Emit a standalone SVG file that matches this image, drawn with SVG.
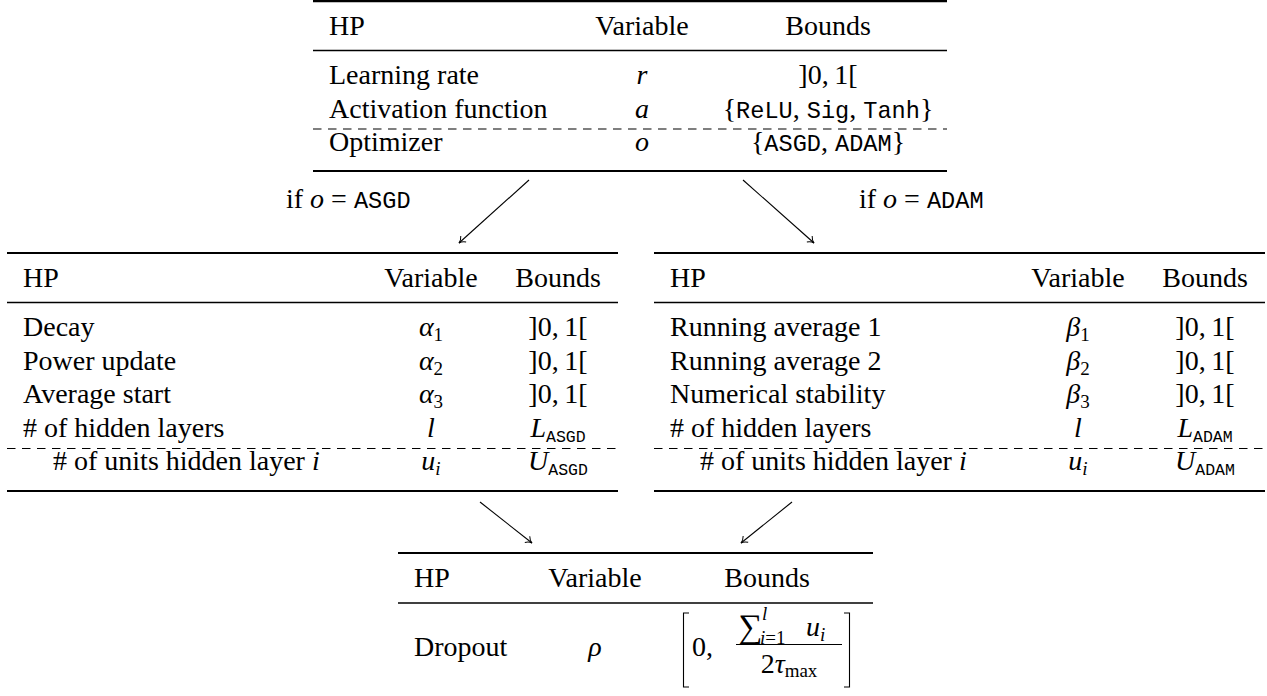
<svg xmlns="http://www.w3.org/2000/svg" width="1267" height="696" viewBox="0 0 1267 696">
<defs>
<marker id="arr" viewBox="-8 -5 10 10" refX="0" refY="0" markerWidth="10" markerHeight="10" markerUnits="userSpaceOnUse" orient="auto">
<path d="M-6,-4 C-4,-1.5 -1.5,-0.3 0,0 C-1.5,0.3 -4,1.5 -6,4" fill="none" stroke="#000" stroke-width="1"/>
</marker>
</defs>
<style>
text{font-family:"Liberation Serif","Times New Roman",serif;font-size:28px;fill:#000}
.m{text-anchor:middle}
.i{font-style:italic}
.tt{font-family:"Liberation Mono","Courier New",monospace;font-size:23.6px}
.sub{font-size:19px}
.ttsub{font-family:"Liberation Mono","Courier New",monospace;font-size:16.5px}
.big{font-size:34px}
.thick{stroke:#000;stroke-width:2.2}
.thin{stroke:#000;stroke-width:1.35}
.dash{stroke:#000;stroke-width:1.1;stroke-dasharray:8.5 6.5}
.br{stroke:#000;stroke-width:1.1;fill:none}
.conn{stroke:#000;stroke-width:1.1;fill:none;marker-end:url(#arr)}
</style>
<rect width="1267" height="696" fill="#fff"/>

<g id="node-optimizer">
<line class="thick" x1="313" y1="1.2" x2="947" y2="1.2"/>
<text x="329" y="34.5">HP</text>
<text class="m" x="642" y="34.5">Variable</text>
<text class="m" x="828" y="34.5">Bounds</text>
<line class="thin" x1="313" y1="50.5" x2="947" y2="50.5"/>
<text x="329" y="84">Learning rate</text>
<text class="m i" x="642" y="84">r</text>
<text class="m" x="828" y="84">]0,&#8201;1[</text>
<text x="329" y="117.5">Activation function</text>
<text class="m i" x="642" y="117.5">a</text>
<text class="m" x="828" y="117.5">{<tspan class="tt">ReLU</tspan>, <tspan class="tt">Sig</tspan>, <tspan class="tt">Tanh</tspan>}</text>
<line class="dash" x1="313" y1="129" x2="947" y2="129"/>
<text x="329" y="151">Optimizer</text>
<text class="m i" x="642" y="151">o</text>
<text class="m" x="828" y="151">{<tspan class="tt">ASGD</tspan>, <tspan class="tt">ADAM</tspan>}</text>
<line class="thick" x1="313" y1="171" x2="947" y2="171"/>
</g>

<g id="node-asgd">
<line class="thick" x1="7" y1="253" x2="618" y2="253"/>
<text x="23" y="287">HP</text>
<text class="m" x="431" y="287">Variable</text>
<text class="m" x="558" y="287">Bounds</text>
<line class="thin" x1="7" y1="302.5" x2="618" y2="302.5"/>
<text x="23" y="336">Decay</text>
<text class="m" x="431" y="336"><tspan class="i">α</tspan><tspan class="sub" dy="5">1</tspan></text>
<text class="m" x="558" y="336">]0,&#8201;1[</text>
<text x="23" y="369.5">Power update</text>
<text class="m" x="431" y="369.5"><tspan class="i">α</tspan><tspan class="sub" dy="5">2</tspan></text>
<text class="m" x="558" y="369.5">]0,&#8201;1[</text>
<text x="23" y="403">Average start</text>
<text class="m" x="431" y="403"><tspan class="i">α</tspan><tspan class="sub" dy="5">3</tspan></text>
<text class="m" x="558" y="403">]0,&#8201;1[</text>
<text x="23" y="436.5"># of hidden layers</text>
<text class="m i" x="431" y="436.5">l</text>
<text class="m" x="558" y="436.5"><tspan class="i">L</tspan><tspan class="ttsub" dy="5">ASGD</tspan></text>
<line class="dash" x1="7" y1="448.5" x2="618" y2="448.5"/>
<text x="53" y="470"># of units hidden layer <tspan class="i">i</tspan></text>
<text class="m" x="431" y="470"><tspan class="i">u</tspan><tspan class="sub i" dy="5">i</tspan></text>
<text class="m" x="558" y="470"><tspan class="i">U</tspan><tspan class="ttsub" dy="5">ASGD</tspan></text>
<line class="thick" x1="7" y1="491" x2="618" y2="491"/>
</g>

<g id="node-adam">
<line class="thick" x1="654" y1="253" x2="1265" y2="253"/>
<text x="670" y="287">HP</text>
<text class="m" x="1078" y="287">Variable</text>
<text class="m" x="1205" y="287">Bounds</text>
<line class="thin" x1="654" y1="302.5" x2="1265" y2="302.5"/>
<text x="670" y="336">Running average 1</text>
<text class="m" x="1078" y="336"><tspan class="i">β</tspan><tspan class="sub" dy="5">1</tspan></text>
<text class="m" x="1205" y="336">]0,&#8201;1[</text>
<text x="670" y="369.5">Running average 2</text>
<text class="m" x="1078" y="369.5"><tspan class="i">β</tspan><tspan class="sub" dy="5">2</tspan></text>
<text class="m" x="1205" y="369.5">]0,&#8201;1[</text>
<text x="670" y="403">Numerical stability</text>
<text class="m" x="1078" y="403"><tspan class="i">β</tspan><tspan class="sub" dy="5">3</tspan></text>
<text class="m" x="1205" y="403">]0,&#8201;1[</text>
<text x="670" y="436.5"># of hidden layers</text>
<text class="m i" x="1078" y="436.5">l</text>
<text class="m" x="1205" y="436.5"><tspan class="i">L</tspan><tspan class="ttsub" dy="5">ADAM</tspan></text>
<line class="dash" x1="654" y1="448.5" x2="1265" y2="448.5"/>
<text x="700" y="470"># of units hidden layer <tspan class="i">i</tspan></text>
<text class="m" x="1078" y="470"><tspan class="i">u</tspan><tspan class="sub i" dy="5">i</tspan></text>
<text class="m" x="1205" y="470"><tspan class="i">U</tspan><tspan class="ttsub" dy="5">ADAM</tspan></text>
<line class="thick" x1="654" y1="491" x2="1265" y2="491"/>
</g>

<g id="node-dropout">
<line class="thick" x1="398" y1="553" x2="873" y2="553"/>
<text x="414" y="587">HP</text>
<text class="m" x="595" y="587">Variable</text>
<text class="m" x="767" y="587">Bounds</text>
<line class="thin" x1="398" y1="603" x2="873" y2="603"/>
<text x="414" y="656">Dropout</text>
<text class="m i" x="595" y="656">ρ</text>
<path class="br" d="M689,613 H683.5 V687 H689"/>
<path class="br" d="M844,613 H849.5 V687 H844"/>
<text x="692" y="656">0,</text>
<text class="big" x="738" y="638">∑</text>
<text class="sub i" x="762" y="620">l</text>
<text class="sub" x="760" y="644"><tspan class="i">i</tspan>=1</text>
<text class="i" x="806" y="636">u</text>
<text class="sub i" x="820" y="641">i</text>
<line class="br" x1="736" y1="644.5" x2="842" y2="644.5"/>
<text class="m" x="789" y="673">2<tspan class="i">τ</tspan><tspan class="sub" dy="4">max</tspan></text>
</g>

<g id="connectors">
<line class="conn" x1="529" y1="180" x2="459" y2="243"/>
<line class="conn" x1="743" y1="180" x2="814" y2="243"/>
<line class="conn" x1="480" y1="502" x2="532" y2="543"/>
<line class="conn" x1="792" y1="502" x2="741" y2="543"/>
</g>

<g id="labels">
<text x="286" y="208">if <tspan class="i">o</tspan> = <tspan class="tt">ASGD</tspan></text>
<text x="859" y="208">if <tspan class="i">o</tspan> = <tspan class="tt">ADAM</tspan></text>
</g>
</svg>
